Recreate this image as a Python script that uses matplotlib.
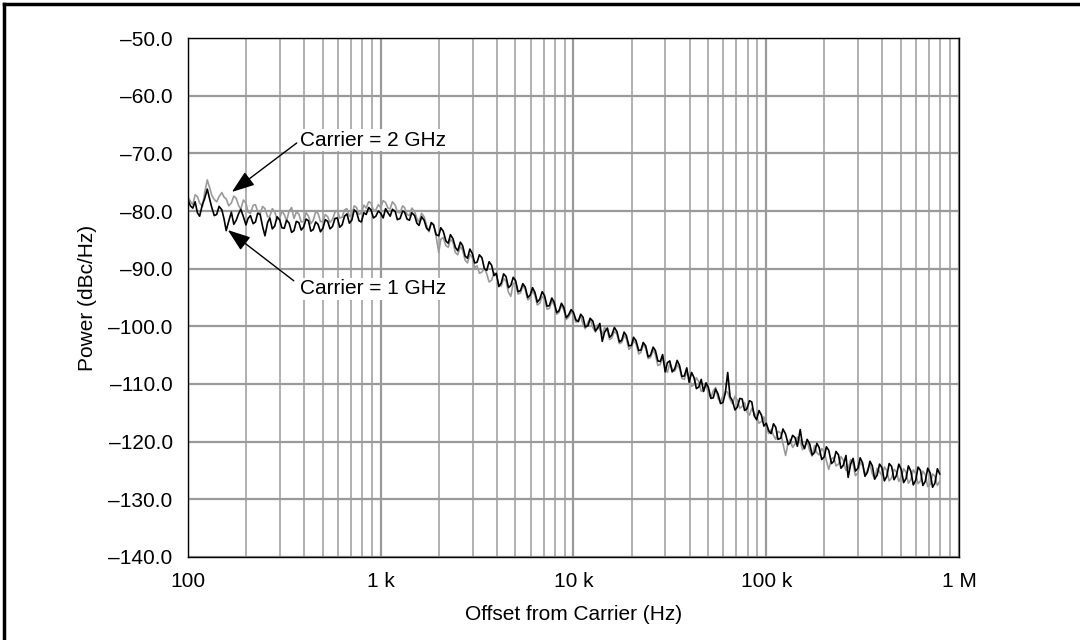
import matplotlib
matplotlib.use("Agg")
import matplotlib.pyplot as plt
from matplotlib.lines import Line2D

plt.rcParams['font.family'] = ['Liberation Sans', 'DejaVu Sans']

# Offset frequencies (Hz), 80 points per decade, 100 Hz .. ~800 kHz
freq_hz = [
    100, 103, 106, 109, 112, 115, 119, 122, 126, 130, 133, 137, 141, 145, 150, 154, 158, 163, 168, 173,
    178, 183, 188, 194, 200, 205, 211, 218, 224, 230, 237, 244, 251, 259, 266, 274, 282, 290, 299, 307,
    316, 325, 335, 345, 355, 365, 376, 387, 398, 410, 422, 434, 447, 460, 473, 487, 501, 516, 531, 546,
    562, 579, 596, 613, 631, 649, 668, 688, 708, 729, 750, 772, 794, 818, 841, 866, 891, 917, 944, 972,
    1000, 1030, 1060, 1090, 1120, 1150, 1190, 1220, 1260, 1300, 1330, 1370, 1410, 1450, 1500, 1540, 1580, 1630, 1680, 1730,
    1780, 1830, 1880, 1940, 2000, 2050, 2110, 2180, 2240, 2300, 2370, 2440, 2510, 2590, 2660, 2740, 2820, 2900, 2990, 3070,
    3160, 3250, 3350, 3450, 3550, 3650, 3760, 3870, 3980, 4100, 4220, 4340, 4470, 4600, 4730, 4870, 5010, 5160, 5310, 5460,
    5620, 5790, 5960, 6130, 6310, 6490, 6680, 6880, 7080, 7290, 7500, 7720, 7940, 8180, 8410, 8660, 8910, 9170, 9440, 9720,
    10000, 10300, 10600, 10900, 11200, 11500, 11900, 12200, 12600, 13000, 13300, 13700, 14100, 14500, 15000, 15400, 15800, 16300, 16800, 17300,
    17800, 18300, 18800, 19400, 20000, 20500, 21100, 21800, 22400, 23000, 23700, 24400, 25100, 25900, 26600, 27400, 28200, 29000, 29900, 30700,
    31600, 32500, 33500, 34500, 35500, 36500, 37600, 38700, 39800, 41000, 42200, 43400, 44700, 46000, 47300, 48700, 50100, 51600, 53100, 54600,
    56200, 57900, 59600, 61300, 63100, 64900, 66800, 68800, 70800, 72900, 75000, 77200, 79400, 81800, 84100, 86600, 89100, 91700, 94400, 97200,
    100000, 103000, 106000, 109000, 112000, 115000, 119000, 122000, 126000, 130000, 133000, 137000, 141000, 145000, 150000, 154000, 158000, 163000, 168000, 173000,
    178000, 183000, 188000, 194000, 200000, 205000, 211000, 218000, 224000, 230000, 237000, 244000, 251000, 259000, 266000, 274000, 282000, 290000, 299000, 307000,
    316000, 325000, 335000, 345000, 355000, 365000, 376000, 387000, 398000, 410000, 422000, 434000, 447000, 460000, 473000, 487000, 501000, 516000, 531000, 546000,
    562000, 579000, 596000, 613000, 631000, 649000, 668000, 688000, 708000, 729000, 750000, 772000, 794000,
]

# Carrier = 1 GHz (black trace), dBc/Hz
power_1ghz = [
    -78.0, -79.1, -79.5, -78.4, -80.3, -80.9, -78.8, -77.9, -76.2, -78.1,
    -79.4, -80.8, -80.6, -79.2, -79.8, -81.4, -83.4, -81.7, -80.2, -82.3,
    -81.6, -80.5, -79.7, -81.0, -82.4, -81.3, -80.8, -82.2, -81.9, -80.4,
    -80.6, -82.7, -84.3, -82.0, -81.2, -83.1, -82.6, -81.0, -81.5, -82.9,
    -83.0, -81.6, -82.1, -83.7, -83.4, -81.8, -82.0, -83.3, -82.8, -81.4,
    -81.7, -83.5, -83.2, -81.9, -82.3, -83.6, -83.0, -81.5, -81.8, -83.1,
    -82.7, -81.3, -81.2, -82.8, -82.4, -80.9, -80.5, -82.1, -81.6, -79.8,
    -80.2, -81.7, -81.9, -80.3, -80.6, -79.4, -79.8, -81.2, -80.9, -80.0,
    -80.4, -81.2, -79.6, -80.3, -80.9, -79.7, -80.1, -81.5, -81.3, -80.0,
    -80.2, -81.4, -81.6, -80.3, -80.8, -82.1, -82.5, -81.0, -81.6, -83.0,
    -83.4, -82.0, -82.4, -84.1, -84.3, -82.9, -83.5, -85.2, -85.6, -84.1,
    -84.8, -86.3, -86.9, -85.4, -86.0, -87.8, -88.2, -86.6, -87.4, -89.0,
    -88.9, -87.6, -88.1, -90.0, -90.3, -88.8, -89.4, -91.2, -90.8, -93.1,
    -92.5, -90.9, -91.4, -93.3, -92.9, -91.5, -92.1, -94.0, -93.8, -92.6,
    -93.2, -95.0, -94.6, -93.3, -94.1, -95.8, -95.3, -94.0, -94.7, -96.5,
    -96.4, -95.1, -95.8, -97.6, -97.3, -96.0, -96.7, -98.5, -98.0, -97.1,
    -97.6, -98.9, -99.2, -97.9, -98.4, -100.1, -99.9, -98.6, -99.1, -100.8,
    -100.4, -99.5, -102.6, -101.0, -100.3, -101.9, -101.5, -100.2, -100.9, -102.7,
    -102.4, -101.0, -101.6, -103.4, -103.3, -101.9, -102.5, -104.2, -104.1, -102.8,
    -103.4, -105.3, -105.0, -103.6, -104.2, -106.0, -106.1, -104.9, -107.9, -106.3,
    -106.0, -107.9, -107.4, -105.9, -106.8, -108.7, -108.6, -107.2, -109.7, -108.0,
    -108.9, -110.8, -110.5, -109.2, -111.3, -109.8, -110.6, -112.5, -112.4, -110.9,
    -111.7, -113.4, -113.2, -111.6, -108.0, -112.2, -112.9, -114.5, -114.0, -112.5,
    -112.6, -114.6, -114.3, -112.9, -113.1, -115.5, -116.2, -114.6, -115.4, -117.3,
    -116.8, -118.1, -118.6, -116.9, -117.5, -119.6, -119.4, -117.8, -118.7, -120.5,
    -120.2, -118.9, -119.3, -120.8, -117.9, -120.4, -121.2, -119.6, -120.4, -122.3,
    -121.9, -120.3, -121.0, -123.1, -122.6, -120.9, -121.5, -123.8, -123.4, -121.7,
    -122.3, -124.6, -124.1, -122.4, -126.2, -123.9, -122.9, -125.1, -124.6, -122.8,
    -123.7, -126.0, -125.3, -123.4, -124.2, -126.5, -125.8, -123.9, -124.5, -126.8,
    -126.0, -123.8, -124.3, -126.6, -125.9, -123.9, -124.8, -127.1, -126.4, -124.2,
    -125.1, -127.5, -126.7, -124.4, -125.0, -127.6, -126.9, -124.6, -125.4, -127.9,
    -127.2, -124.7, -125.6,
]

# Carrier = 2 GHz (gray trace), dBc/Hz
power_2ghz = [
    -77.6, -78.3, -78.9, -77.2, -77.5, -78.6, -79.2, -76.9, -74.6, -76.1,
    -77.3, -78.0, -78.4, -77.5, -76.8, -77.6, -77.9, -79.1, -78.6, -77.4,
    -77.8, -79.0, -79.7, -78.1, -78.6, -80.2, -80.4, -79.0, -78.9, -80.1,
    -80.5, -79.2, -79.6, -81.0, -80.9, -79.6, -80.1, -81.5, -81.4, -80.0,
    -80.6, -81.7, -80.0, -79.4, -81.3, -80.2, -80.5, -81.9, -81.8, -80.3,
    -80.9, -82.2, -81.6, -80.1, -80.4, -81.8, -81.9, -80.6, -81.0, -82.0,
    -81.5, -80.2, -79.9, -81.2, -81.1, -79.8, -79.6, -80.9, -80.7, -79.1,
    -79.4, -80.6, -80.3, -79.0, -79.5, -78.4, -78.6, -79.9, -79.8, -78.9,
    -79.4, -78.2, -78.5, -79.5, -79.6, -78.4, -79.0, -80.2, -80.3, -79.1,
    -79.4, -80.6, -80.8, -79.5, -80.1, -81.3, -81.9, -80.4, -81.0, -82.5,
    -83.6, -82.1, -82.3, -84.5, -87.2, -84.9, -84.6, -86.0, -86.3, -84.9,
    -85.4, -87.2, -87.6, -86.1, -86.8, -88.5, -89.0, -87.5, -88.1, -89.8,
    -89.5, -90.8, -90.6, -89.9, -90.9, -92.3, -92.0, -90.7, -91.2, -92.8,
    -93.0, -91.7, -92.2, -94.1, -94.8, -92.5, -92.6, -94.4, -94.2, -93.0,
    -93.6, -95.4, -95.1, -93.8, -94.6, -96.3, -96.0, -94.8, -95.2, -97.0,
    -96.9, -95.6, -96.3, -97.9, -97.6, -96.4, -97.1, -98.8, -98.4, -97.5,
    -98.1, -99.3, -98.8, -98.2, -99.6, -100.4, -99.3, -98.7, -100.2, -101.0,
    -99.8, -100.6, -101.4, -100.2, -100.8, -102.3, -102.0, -100.9, -101.3, -103.0,
    -102.8, -101.6, -102.1, -104.0, -103.6, -102.5, -103.0, -104.8, -104.5, -103.2,
    -103.8, -105.6, -105.4, -104.1, -104.9, -106.8, -106.6, -105.3, -107.1, -108.0,
    -106.4, -107.3, -107.8, -106.7, -107.3, -109.0, -109.2, -107.9, -108.8, -110.4,
    -110.1, -108.9, -109.6, -111.3, -111.0, -110.2, -111.6, -112.4, -111.2, -110.6,
    -112.5, -113.1, -112.0, -111.3, -111.4, -112.7, -113.4, -112.1, -112.8, -114.2,
    -113.9, -113.2, -114.8, -115.4, -114.2, -115.1, -115.6, -116.8, -116.5, -115.7,
    -117.4, -118.6, -117.9, -118.9, -119.6, -118.2, -118.5, -120.3, -122.4, -120.1,
    -119.6, -121.0, -120.4, -119.2, -119.8, -121.4, -120.9, -119.9, -121.6, -122.5,
    -120.7, -121.9, -122.3, -121.2, -121.8, -123.3, -124.8, -123.0, -122.7, -124.2,
    -123.9, -122.6, -123.2, -125.0, -124.7, -123.1, -123.8, -125.9, -125.4, -123.6,
    -124.1, -125.7, -124.9, -123.9, -125.6, -126.4, -124.6, -125.2, -125.9, -124.4,
    -125.0, -126.8, -126.3, -124.8, -125.2, -126.9, -126.1, -124.7, -125.3, -127.2,
    -126.6, -124.9, -125.5, -127.3, -126.8, -125.1, -125.7, -127.8, -127.4, -125.6,
    -126.0, -127.6, -126.9,
]

assert len(freq_hz) == len(power_1ghz) == len(power_2ghz)

x_ticks = [100, 1e3, 1e4, 1e5, 1e6]
x_tick_labels = ["100", "1 k", "10 k", "100 k", "1 M"]
y_ticks = [-140, -130, -120, -110, -100, -90, -80, -70, -60, -50]
y_tick_labels = ["\u2013%.1f" % abs(v) for v in y_ticks]

fig = plt.figure(figsize=(10.8, 6.4), dpi=100)
ax = fig.add_axes([0.174, 0.1297, 0.714, 0.8109])

ax.semilogx(freq_hz, power_2ghz, color="#9a9a9a", lw=1.2, zorder=3)
ax.semilogx(freq_hz, power_1ghz, color="black", lw=1.2, zorder=4)

ax.set_xlim(100, 1e6)
ax.set_ylim(-140, -50)
ax.set_xticks(x_ticks)
ax.set_xticklabels(x_tick_labels)
ax.set_yticks(y_ticks)
ax.set_yticklabels(y_tick_labels)
ax.tick_params(which="both", length=0, labelsize=15, pad=11)

# grid: decades a bit darker than the minor lines
ax.grid(True, which="major", color="#9a9a9a", lw=1.6)
ax.grid(True, which="minor", axis="x", color="#b0b0b0", lw=1.4)
ax.set_axisbelow(True)
for s in ax.spines.values():
    s.set_color("black")
    s.set_linewidth(1.0)
    s.set_zorder(5)

ax.set_xlabel("Offset from Carrier (Hz)", fontsize=15)
ax.set_ylabel("Power (dBc/Hz)", fontsize=15)
ax.xaxis.set_label_coords(0.5, -0.093)
ax.yaxis.set_label_coords(-0.118, 0.5)

# annotations with solid arrowheads
arrow = dict(arrowstyle="-|>,head_length=0.7,head_width=0.25", mutation_scale=20,
             color="black", lw=1.0, shrinkA=0, shrinkB=0)
ax.annotate("", xy=(169, -76.7), xytext=(367, -68.2), arrowprops=arrow, zorder=6)
ax.text(380, -67.7, "Carrier = 2 GHz", fontsize=15, ha="left", va="center", zorder=6,
        bbox=dict(facecolor="white", edgecolor="none", pad=1))
ax.annotate("", xy=(161, -83.3), xytext=(354, -92.1), arrowprops=arrow, zorder=6)
ax.text(380, -93.5, "Carrier = 1 GHz", fontsize=15, ha="left", va="center", zorder=6,
        bbox=dict(facecolor="white", edgecolor="none", pad=1))

# frame lines along the top and left edge of the figure
fig.add_artist(Line2D([0.0035, 1.0], [0.9945, 0.9945], color="black", lw=2.5, transform=fig.transFigure))
fig.add_artist(Line2D([0.0035, 0.0035], [0.0, 0.9945], color="black", lw=2.5, transform=fig.transFigure))

plt.savefig("out.png", dpi=100)
plt.close()
